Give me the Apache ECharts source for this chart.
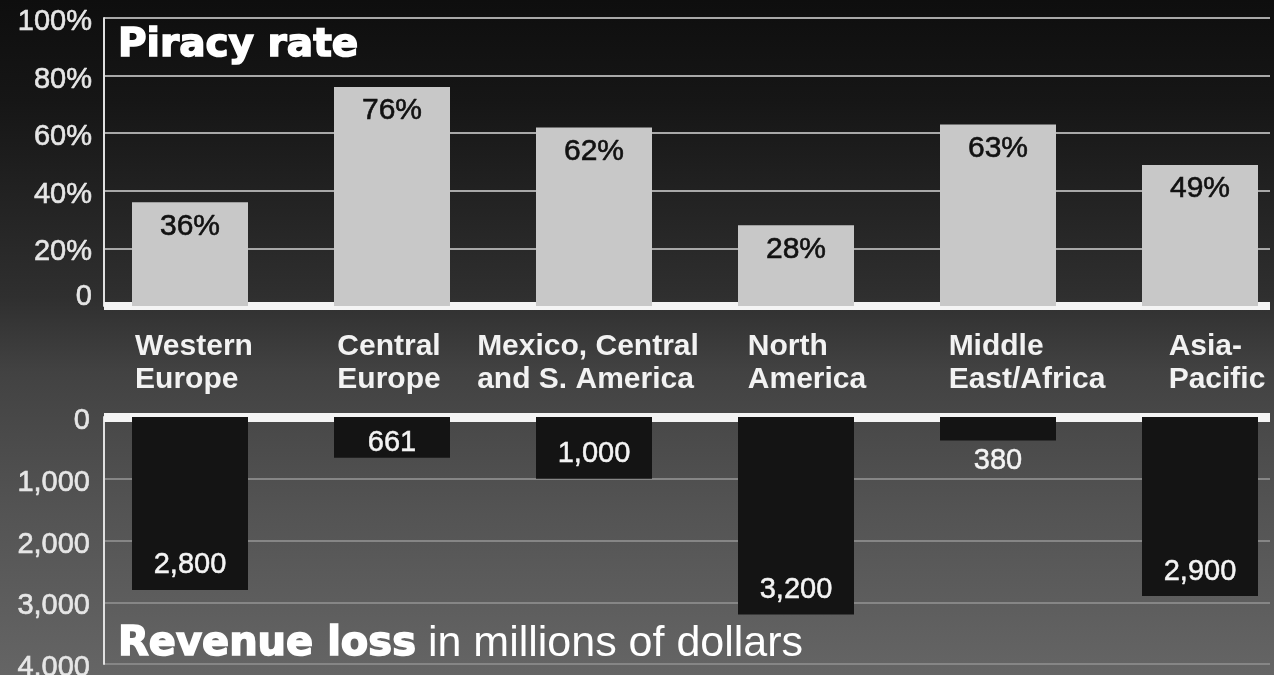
<!DOCTYPE html>
<html>
<head>
<meta charset="utf-8">
<style>
  html, body { margin: 0; padding: 0; background: #000; }
  #chart { width: 1274px; height: 675px; }
</style>
<script src="https://cdn.jsdelivr.net/npm/echarts@6/dist/echarts.min.js"></script>
</head>
<body>
<div id="chart"></div>
<script>
// ---- data ----
const categories = ['Western\nEurope', 'Central\nEurope', 'Mexico, Central\nand S. America', 'North\nAmerica', 'Middle\nEast/Africa', 'Asia-\nPacific'];
const piracyRate = [36, 76, 62, 28, 63, 49];          // percent
const revenueLoss = [2800, 661, 1000, 3200, 380, 2900]; // millions of dollars
const rateTicks = [0, 20, 40, 60, 80, 100];
const lossTicks = [0, 1000, 2000, 3000, 4000];

// ---- layout helpers (not data) ----
const labelShift = [4, -3, -6, 11, 29, 17];
const fmtNum = v => Number(v).toLocaleString('en-US');

const chart = echarts.init(document.getElementById('chart'), null, { renderer: 'canvas' });

const TOP = { top: 18, height: 288 };
const BOT = { top: 417, height: 247 };
const AXIS_FONT = { fontFamily: 'Liberation Sans', fontSize: 29, color: '#e6e6e6', textBorderColor: '#e6e6e6', textBorderWidth: 0.6 };

const catData = categories.map((c, i) => {
  const s = labelShift[i];
  return { value: c, textStyle: { padding: s >= 0 ? [0, 0, 0, 2 * s] : [0, -2 * s, 0, 0] } };
});

const lossData = revenueLoss.map(v => {
  let label;
  if (v < 500) label = { position: 'bottom', distance: 6 };
  else if (v < 800) label = { position: 'insideBottom', distance: 0 };
  else label = { position: 'insideBottom', distance: 10 };
  return { value: v, label };
});

const option = {
  animation: false,
  backgroundColor: {
    type: 'linear', x: 0, y: 0, x2: 0, y2: 1,
    colorStops: [
      { offset: 0, color: '#0e0e0e' },
      { offset: 0.15, color: '#161616' },
      { offset: 0.44, color: '#2f2f2f' },
      { offset: 0.55, color: '#424242' },
      { offset: 0.75, color: '#535353' },
      { offset: 1, color: '#656565' }
    ]
  },
  grid: [
    { left: 104, right: 4, top: TOP.top, height: TOP.height, outerBoundsMode: 'none' },
    { left: 89, width: 1212, top: TOP.top, height: TOP.height, outerBoundsMode: 'none' },
    { left: 104, right: 4, top: BOT.top, height: BOT.height, outerBoundsMode: 'none' },
    { left: 89, width: 1212, top: BOT.top, height: BOT.height, outerBoundsMode: 'none' }
  ],
  xAxis: [
    { gridIndex: 0, type: 'category', data: categories, offset: 5,
      axisLine: { show: true, lineStyle: { color: '#f4f4f4', width: 8, cap: 'butt' } },
      axisTick: { show: false }, axisLabel: { show: false }, splitLine: { show: false } },
    { gridIndex: 1, type: 'category', data: catData,
      axisLine: { show: false }, axisTick: { show: false }, splitLine: { show: false },
      axisLabel: {
        show: true, interval: 0, margin: 24,
        formatter: v => v.split('\n').map(s => '{a|' + s + '}').join('\n'),
        rich: { a: { align: 'left', fontFamily: 'Liberation Sans', fontWeight: 'bold', fontSize: 30, lineHeight: 33, color: '#f2f2f2' } }
      } },
    { gridIndex: 2, type: 'category', data: categories, position: 'top',
      axisLine: { show: true, lineStyle: { color: '#f4f4f4', width: 9, cap: 'butt' } },
      axisTick: { show: false }, axisLabel: { show: false }, splitLine: { show: false } },
    { gridIndex: 3, type: 'category', data: categories, show: false }
  ],
  yAxis: [
    { gridIndex: 0, type: 'value', min: rateTicks[0], max: rateTicks[rateTicks.length - 1], interval: rateTicks[1] - rateTicks[0],
      axisLine: { show: true, lineStyle: { color: '#e0e0e0', width: 2 } },
      axisTick: { show: false },
      splitLine: { show: true, lineStyle: { color: '#a8a8a8', width: 2 } },
      axisLabel: Object.assign({ margin: 12,
        formatter: v => v === 0 ? '{z|0}' : '{p|' + v + '%}',
        rich: { z: Object.assign({ padding: [0, 0, 18, 0] }, AXIS_FONT),
                p: Object.assign({ padding: [8, 0, 0, 0] }, AXIS_FONT) } }, AXIS_FONT) },
    { gridIndex: 1, type: 'value', min: rateTicks[0], max: rateTicks[rateTicks.length - 1], show: false, splitLine: { show: false } },
    { gridIndex: 2, type: 'value', inverse: true, min: lossTicks[0], max: lossTicks[lossTicks.length - 1], interval: lossTicks[1] - lossTicks[0],
      axisLine: { show: true, lineStyle: { color: '#e0e0e0', width: 2 } },
      axisTick: { show: false },
      splitLine: { show: true, lineStyle: { color: '#868686', width: 2 } },
      axisLabel: Object.assign({ margin: 14, formatter: v => '{n|' + fmtNum(v) + '}',
        rich: { n: Object.assign({ padding: [8, 0, 0, 0] }, AXIS_FONT) } }, AXIS_FONT) },
    { gridIndex: 3, type: 'value', inverse: true, min: lossTicks[0], max: lossTicks[lossTicks.length - 1], show: false, splitLine: { show: false } }
  ],
  series: [
    { name: 'Piracy rate', type: 'bar', xAxisIndex: 1, yAxisIndex: 1, data: piracyRate, barWidth: 116,
      itemStyle: { color: '#c8c8c8' },
      label: { show: true, position: 'insideTop', distance: 9, formatter: p => p.value + '%',
        fontFamily: 'Liberation Sans', fontSize: 30, color: '#111', textBorderColor: '#111', textBorderWidth: 0.6 } },
    { name: 'Revenue loss', type: 'bar', xAxisIndex: 3, yAxisIndex: 3, data: lossData, barWidth: 116,
      itemStyle: { color: '#141414' },
      label: { show: true, formatter: p => fmtNum(p.value),
        fontFamily: 'Liberation Sans', fontSize: 29, color: '#f4f4f4', textBorderColor: '#f4f4f4', textBorderWidth: 0.5 } }
  ],
  graphic: [
    { type: 'text', x: 118, y: 26, z: 10,
      style: { text: 'Piracy rate', font: 'bold 39px "DejaVu Sans"', fill: '#ffffff', stroke: '#ffffff', lineWidth: 1.5,
        verticalAlign: 'top', textVerticalAlign: 'top' } },
    { type: 'text', x: 118, y: 623, z: 10,
      style: {
        text: '{b|Revenue loss}{r| in millions of dollars}', verticalAlign: 'top', textVerticalAlign: 'top',
        rich: {
          b: { font: 'bold 40px "DejaVu Sans"', fontFamily: 'DejaVu Sans', fontWeight: 'bold', fontSize: 40, fill: '#ffffff', stroke: '#ffffff', lineWidth: 1.5 },
          r: { font: '43px "Liberation Sans"', fontFamily: 'Liberation Sans', fontSize: 43, fill: '#ffffff' }
        }
      } }
  ]
};

chart.setOption(option);
</script>
</body>
</html>
